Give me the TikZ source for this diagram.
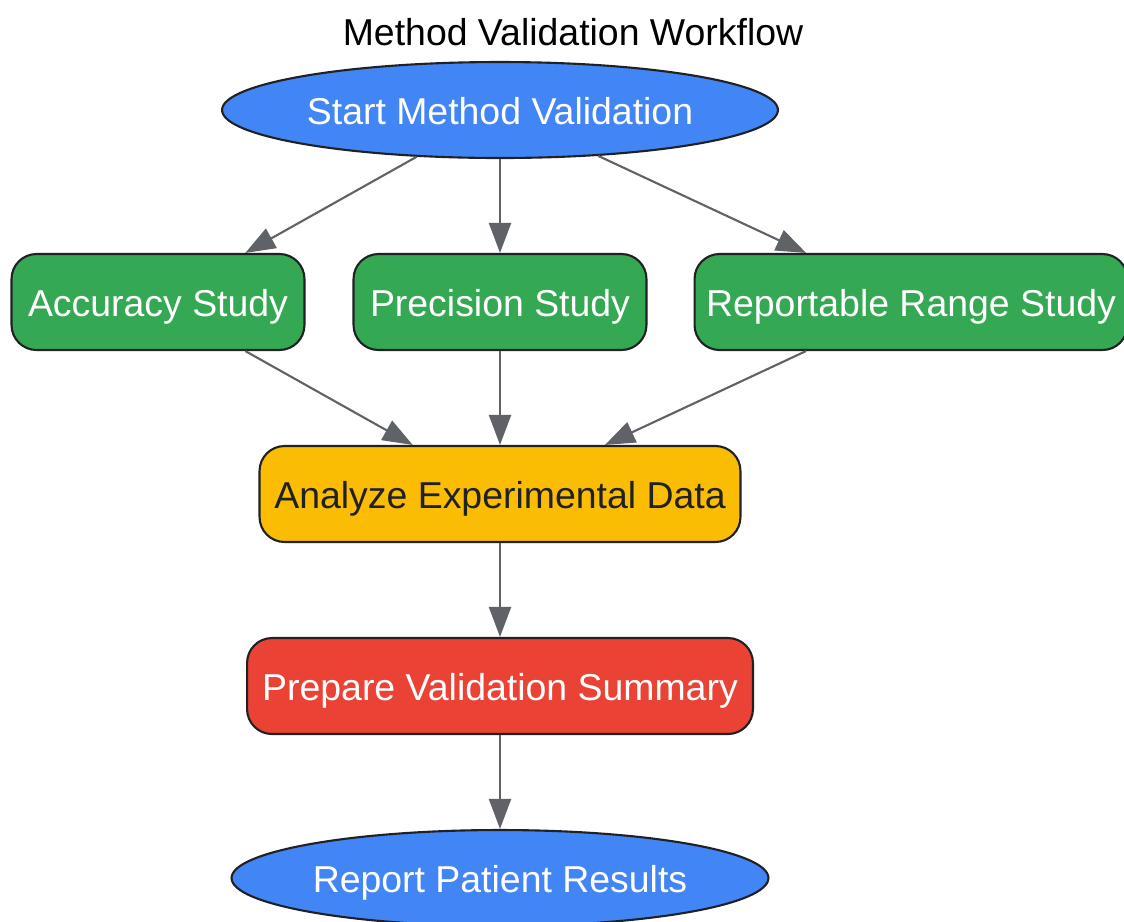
\documentclass[tikz,border=0pt]{standalone}
\usepackage{fontspec}
\setmainfont{Liberation Sans}
\usetikzlibrary{shapes.geometric,arrows.meta}

\definecolor{gblue}{HTML}{4285F4}
\definecolor{ggreen}{HTML}{34A853}
\definecolor{gyellow}{HTML}{FBBC04}
\definecolor{gred}{HTML}{EA4335}
\definecolor{edgegray}{HTML}{5F6368}
\definecolor{darkline}{HTML}{202124}

\begin{document}
\begin{tikzpicture}[x=0.02cm,y=-0.02cm,
  font=\fontsize{21.3}{25}\selectfont,
  terminal/.style={draw=darkline,line width=1.2pt,ellipse,fill=gblue,text=white,inner sep=0,
    text height=20.8pt,text depth=4.4pt,minimum height=1.92cm},
  stepbox/.style={draw=darkline,line width=1.2pt,rounded corners=0.5cm,text=white,inner sep=0,
    text height=20.8pt,text depth=4.4pt,minimum height=1.92cm},
  ->/.style={draw=edgegray,line width=1.2pt,-{Triangle[length=0.6cm,width=0.44cm]}}]
  \useasboundingbox (0,0) rectangle (1124,921);

  \node (title) at (573,32) []{Method Validation Workflow};

  \node (start) at (500,110) [terminal,minimum width=11.12cm]{Start Method Validation};

  \node (acc) at (158,302) [stepbox,fill=ggreen,minimum width=5.86cm]{Accuracy Study};
  \node (prec) at (500,302) [stepbox,fill=ggreen,minimum width=5.86cm]{Precision Study};
  \node (range) at (911,302) [stepbox,fill=ggreen,minimum width=8.66cm]{Reportable Range Study};

  \node (analyze) at (500,494) [stepbox,fill=gyellow,text=darkline,minimum width=9.62cm]{Analyze Experimental Data};
  \node (summary) at (500,686) [stepbox,fill=gred,minimum width=10.12cm]{Prepare Validation Summary};

  \node (report) at (500,878) [terminal,minimum width=10.74cm]{Report Patient Results};


  \draw[->] (start) -- (acc);
  \draw[->] (start) -- (prec);
  \draw[->] (start) -- (range);

  \draw[->] (acc) -- (analyze);
  \draw[->] (prec) -- (analyze);
  \draw[->] (range) -- (analyze);

  \draw[->] (analyze) -- (summary);
  \draw[->] (summary) -- (report);

\end{tikzpicture}
\end{document}
